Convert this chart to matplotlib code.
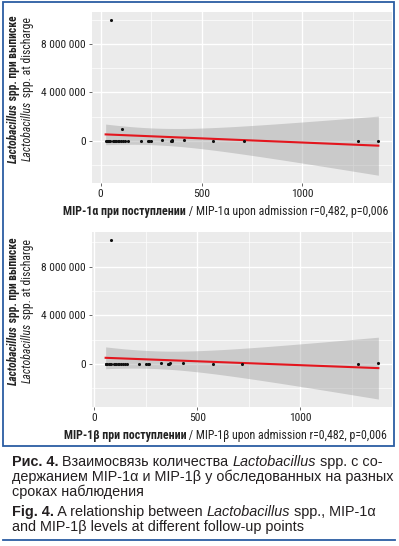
import numpy as np
import matplotlib
matplotlib.use("Agg")
import matplotlib.pyplot as plt
from matplotlib import font_manager
from matplotlib.patches import Rectangle
from matplotlib.lines import Line2D
from matplotlib.ticker import MultipleLocator, FuncFormatter

# ---------------- data ----------------
x1 = [25, 30, 36, 42, 48, 60, 66, 72, 78, 85, 92, 100, 110, 120, 135,
      198, 233, 240, 248, 302, 347, 352, 356, 415, 559, 708, 1277, 1376,
      54, 104]
y1 = [0, 0, 0, 0, 0, 0, 0, 0, 0, 0, 0, 0, 0, 0, 0,
      0, 0, 0, 0, 50000, 30000, 0, 40000, 40000, 0, 0, 0, 0,
      10000000, 1000000]

x2 = [56, 60, 65, 70, 75, 82, 95, 100, 108, 115, 122, 130, 140, 150, 160,
      218, 252, 262, 267, 325, 359, 364, 369, 432, 578, 718, 1281, 1378,
      83]
y2 = [0, 0, 0, 0, 0, 0, 0, 0, 0, 0, 0, 0, 0, 0, 0,
      0, 0, 0, 0, 50000, 0, 40000, 80000, 50000, 0, 0, 0, 120000,
      10200000]

y_ticks = [0, 4000000, 8000000]
x_ticks = [0, 500, 1000]

xlab_bold = ["MIP-1α при поступлении", "MIP-1β при поступлении"]
xlab_rest = [" / MIP-1α upon admission r=0,482, p=0,006",
             " / MIP-1β upon admission r=0,482, p=0,006"]

# ---------------- fonts ----------------
names = {f.name for f in font_manager.fontManager.ttflist}
NARROW = "DejaVu Sans"
for cand in ["Roboto Condensed", "PT Sans Narrow", "Archivo Narrow",
             "Sofia Sans Condensed", "Encode Sans Condensed", "Open Sans Condensed"]:
    if cand in names:
        NARROW = cand
        break
REG = "DejaVu Sans"
for cand in ["Liberation Sans", "Arimo", "Roboto"]:
    if cand in names:
        REG = cand
        break
NARROW_F = [NARROW, "DejaVu Sans"]
REG_F = [REG, "DejaVu Sans"]

W, H = 399, 546
fig = plt.figure(figsize=(W / 100, H / 100), dpi=100)
renderer = fig.canvas.get_renderer()

BG = "#EBEBEB"


def fmt_space(v, pos):
    return f"{int(round(v)):,}".replace(",", " ")


def text_width(s, size, **kw):
    t = fig.text(0, 0, s, fontsize=size, **kw)
    w = t.get_window_extent(renderer).width
    t.remove()
    return w


def fit_size(pieces, target, base=8.0):
    tot = sum(text_width(s, base, **kw) for s, kw in pieces)
    return base * target / tot


TICK_SIZE = fit_size([("8 000 000", dict(family=NARROW_F))], 45)


def draw_panel(rect, xs, ys):
    ax = fig.add_axes(rect)
    ax.set_facecolor(BG)
    xs = np.asarray(xs, float)
    ys = np.asarray(ys, float)
    n = len(xs)
    b, a = np.polyfit(xs, ys, 1)
    xg = np.linspace(xs.min(), xs.max(), 200)
    yg = a + b * xg
    resid = ys - (a + b * xs)
    s = np.sqrt(np.sum(resid ** 2) / (n - 2))
    sxx = np.sum((xs - xs.mean()) ** 2)
    se = s * np.sqrt(1 / n + (xg - xs.mean()) ** 2 / sxx)
    t = 2.048
    lo, hi = yg - t * se, yg + t * se
    ax.fill_between(xg, lo, hi, color="#999999", alpha=0.4, lw=0, zorder=2)
    ax.plot(xg, yg, color="#E3161E", lw=1.5, zorder=3)
    ax.scatter(xs, ys, s=5, color="#111111", zorder=4, lw=0)
    xmin, xmax = xs.min(), xs.max()
    dx = (xmax - xmin) * 0.05
    ymin = min(ys.min(), lo.min())
    ymax = max(ys.max(), hi.max())
    dy = (ymax - ymin) * 0.05
    ax.set_xlim(xmin - dx, xmax + dx)
    ax.set_ylim(ymin - dy, ymax + dy)
    ax.set_xticks(x_ticks)
    ax.set_yticks(y_ticks)
    ax.xaxis.set_minor_locator(MultipleLocator(250))
    ax.yaxis.set_minor_locator(MultipleLocator(2000000))
    ax.yaxis.set_major_formatter(FuncFormatter(fmt_space))
    ax.grid(which="major", color="white", lw=1.0, zorder=0)
    ax.grid(which="minor", color="white", lw=0.5, zorder=0)
    ax.set_axisbelow(True)
    for sp in ax.spines.values():
        sp.set_visible(False)
    ax.tick_params(which="major", length=2.5, width=0.7, color="#666666",
                   labelsize=TICK_SIZE, labelcolor="#222222", pad=2)
    ax.tick_params(which="minor", length=0)
    for lab in ax.get_xticklabels() + ax.get_yticklabels():
        lab.set_family(NARROW_F)
    return ax


def rich_h(x_px, y_px, pieces, center=False, size=8, color="#222222"):
    widths = [text_width(s, size, **kw) for s, kw in pieces]
    total = sum(widths)
    x = x_px - total / 2 if center else x_px
    for (s, kw), w in zip(pieces, widths):
        fig.text(x / W, 1 - y_px / H, s, fontsize=size, color=color,
                 ha="left", va="baseline", **kw)
        x += w


def rich_v(x_px, yc_px, pieces, size=8, color="#222222"):
    widths = [text_width(s, size, **kw) for s, kw in pieces]
    total = sum(widths)
    y = (H - yc_px) - total / 2
    for (s, kw), w in zip(pieces, widths):
        fig.text(x_px / W, y / H, s, fontsize=size, color=color,
                 rotation=90, rotation_mode="anchor",
                 ha="left", va="center", **kw)
        y += w


r1 = [92 / W, 1 - 183 / H, 300 / W, 171 / H]
r2 = [92 / W, 1 - 407 / H, 300 / W, 175 / H]
draw_panel(r1, x1, y1)
draw_panel(r2, x2, y2)

NB = dict(family=NARROW_F, weight="bold")
NBI = dict(family=NARROW_F, weight="bold", style="italic")
NR = dict(family=NARROW_F)
NI = dict(family=NARROW_F, style="italic")

yl1 = [("Lactobacillus", NBI), (" spp. при выписке", NB)]
yl2 = [("Lactobacillus", NI), (" spp. at discharge", NR)]
s_y1 = fit_size(yl1, 148)
s_y2 = fit_size(yl2, 143)
for yc in (89, 311):
    rich_v(13.5, yc, yl1, size=s_y1)
    rich_v(27, yc, yl2, size=s_y2)

for yb, i in ((215, 0), (439, 1)):
    pcs = [(xlab_bold[i], NB), (xlab_rest[i], NR)]
    sz = fit_size(pcs, 325)
    rich_h(225.5, yb, pcs, center=True, size=sz)

# caption
RB = dict(family=REG_F, weight="bold")
RR = dict(family=REG_F)
RI = dict(family=REG_F, style="italic")
cap = [
    (466, [("Рис. 4.", RB), (" Взаимосвязь количества ", RR), ("Lactobacillus", RI),
           (" spp. с со-", RR)]),
    (481, [("держанием MIP-1α и MIP-1β у обследованных на разных", RR)]),
    (496, [("сроках наблюдения", RR)]),
    (516, [("Fig. 4.", RB), (" A relationship between ", RR), ("Lactobacillus", RI),
           (" spp., MIP-1α", RR)]),
    (531, [("and MIP-1β levels at different follow-up points", RR)]),
]
cap_size = fit_size(cap[0][1], 371, base=9.0)
for yb, pcs in cap:
    rich_h(12, yb, pcs, size=cap_size, color="#231F20")

BLUE = "#2B5DA3"
fig.add_artist(Rectangle((3 / W, 1 - 446 / H), 391 / W, 444 / H,
                         transform=fig.transFigure, fill=False,
                         edgecolor=BLUE, lw=1.3))
fig.add_artist(Line2D([3 / W, 395 / W], [1 - 540 / H, 1 - 540 / H],
                      transform=fig.transFigure, color=BLUE, lw=1.3))

fig.savefig("out.png", dpi=100, facecolor="white")
